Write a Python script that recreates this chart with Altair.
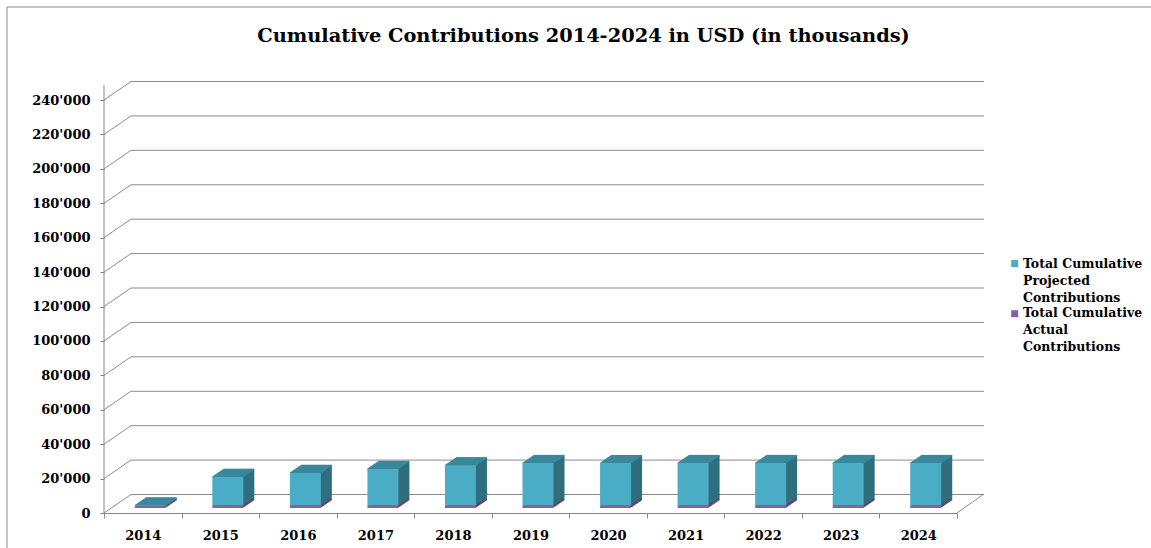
import altair as alt
import pandas as pd

# ---------------- data ----------------
years = ["2014", "2015", "2016", "2017", "2018", "2019", "2020", "2021", "2022", "2023", "2024"]
projected = [500, 16500, 18800, 21100, 23200, 24500, 24500, 24500, 24500, 24500, 24500]
actual = [1000, 1600, 1600, 1600, 1600, 1600, 1600, 1600, 1600, 1600, 1600]
tick_values = [0, 20000, 40000, 60000, 80000, 100000, 120000, 140000,
               160000, 180000, 200000, 220000, 240000]
series_names = ["Total Cumulative\nProjected\nContributions",
                "Total Cumulative\nActual\nContributions"]
title_text = "Cumulative Contributions 2014-2024 in USD (in thousands)"

# ---------------- style ----------------
FONT = "DejaVu Serif"
W, H = 853, 413
PAD_L, PAD_T = 104, 100
DX, DY = 27, -18.5          # depth of the 3-D walls
BX, BY = 7.5, -5            # bar position inside depth
SX, SY = 11, 7.5            # bar depth
BAR_W = 31
GRID = "#8c8c8c"
BLUE, BLUE_SIDE, BLUE_TOP = "#4bacc6", "#306f7e", "#3a889c"
PURP, PURP_SIDE = "#8064a2", "#5c4776"

df = pd.DataFrame({"year": years, "projected": projected, "actual": actual})
df["total"] = df["projected"] + df["actual"]

xscale = alt.Scale(domain=years, paddingInner=0, paddingOuter=0)
yscale = alt.Scale(domain=[0, 240000], nice=False, zero=True)

XAX = alt.Axis(title=None, labelAngle=0, tickBand="extent", tickSize=5, tickColor="#868686",
               domainColor="#868686", labelPadding=21, labelBaseline="alphabetic",
               labelFont=FONT, labelFontWeight="bold", labelFontSize=13, labelColor="black")
YAX = alt.Axis(values=tick_values, title=None, domain=False, grid=False, labelOverlap=False,
               tickSize=4, tickColor="#868686", labelPadding=10,
               labelFont=FONT, labelFontWeight="bold", labelFontSize=13, labelColor="black",
               labelExpr="replace(format(datum.value, ','), ',', \"'\")")
X = alt.X("year:N", scale=xscale, axis=XAX)


def Y(field):
    return alt.Y(field, scale=yscale, axis=YAX)


grid_df = pd.DataFrame({"v": tick_values})

# back wall gridlines
grid = alt.Chart(grid_df).mark_rule(color=GRID, strokeWidth=1, yOffset=DY).encode(
    y=Y("v:Q"), x=alt.value(DX), x2=alt.value(W + DX))

# side wall diagonals
diag = alt.Chart(grid_df).mark_rule(color=GRID, strokeWidth=1, y2Offset=DY).encode(
    y=Y("v:Q"), y2="v:Q", x=alt.value(0), x2=alt.value(DX))

floor_df = pd.DataFrame({"v": [0]})
floor_diag = alt.Chart(floor_df).mark_rule(color=GRID, strokeWidth=1, y2Offset=-19).encode(
    y=Y("v:Q"), y2="v:Q", x=alt.value(W), x2=alt.value(W + DX))

yline = alt.Chart(floor_df).mark_rule(color="#868686", strokeWidth=1).encode(
    x=alt.value(0), y=alt.value(-15), y2=alt.value(H))

layers = [grid, diag, floor_diag, yline]

base = alt.Chart(df)
STEPS = 11
for i in range(STEPS, 0, -1):
    ox = BX + i * SX / STEPS
    oy = BY - i * SY / STEPS
    layers.append(base.mark_bar(size=BAR_W, color=BLUE_SIDE, xOffset=ox, x2Offset=ox,
                                yOffset=oy, y2Offset=oy).encode(
        x=X, y=Y("actual:Q"), y2="total:Q"))
    layers.append(base.mark_bar(size=BAR_W, color=PURP_SIDE, xOffset=ox, x2Offset=ox,
                                yOffset=oy, y2Offset=oy).encode(
        x=X, y=Y("actual:Q"), y2=alt.datum(0)))

for i in range(0, STEPS + 1):
    ox = BX + i * SX / STEPS
    oy = BY - i * SY / STEPS
    layers.append(base.mark_bar(size=BAR_W, color=BLUE_TOP, xOffset=ox, x2Offset=ox,
                                yOffset=oy - 0.7, y2Offset=oy + 0.7).encode(
        x=X, y=Y("total:Q"), y2="total:Q"))

front_act = base.mark_bar(size=BAR_W, color=PURP, xOffset=BX, x2Offset=BX,
                          yOffset=BY, y2Offset=BY).encode(
    x=X, y=Y("actual:Q"), y2=alt.datum(0))
front_proj = base.mark_bar(size=BAR_W, color=BLUE, xOffset=BX, x2Offset=BX,
                           yOffset=BY, y2Offset=BY).encode(
    x=X, y=Y("actual:Q"), y2="total:Q")
layers += [front_act, front_proj]

# legend
leg_df = pd.DataFrame({"name": series_names, "color": [BLUE, PURP],
                       "sy": [163.5, 213.7], "ty": [168.3, 216.7]})
leg_sq = alt.Chart(leg_df).mark_square(size=49, opacity=1).encode(
    x=alt.value(1014.7 - PAD_L),
    y=alt.Y("sy:Q", scale=None),
    color=alt.Color("color:N", scale=None, legend=None))
leg_txt = alt.Chart(leg_df).mark_text(
    align="left", baseline="alphabetic", font=FONT, fontWeight="bold", fontSize=12.5,
    lineBreak="\n", lineHeight=17, color="black").encode(
    x=alt.value(1023 - PAD_L), y=alt.Y("ty:Q", scale=None), text="name:N")
layers += [leg_sq, leg_txt]

# title
t_df = pd.DataFrame({"t": [title_text]})
title = alt.Chart(t_df).mark_text(
    align="center", baseline="alphabetic", font=FONT, fontWeight="bold", fontSize=19.4,
    color="black").encode(x=alt.value(583.5 - PAD_L), y=alt.value(41.5 - PAD_T), text="t:N")
layers.append(title)

# frame
frame_l = alt.Chart(floor_df).mark_rule(color="#8a8a8a").encode(
    x=alt.value(7 - PAD_L), y=alt.value(7 - PAD_T), y2=alt.value(548 - PAD_T))
frame_t = alt.Chart(floor_df).mark_rule(color="#8a8a8a").encode(
    x=alt.value(7 - PAD_L), x2=alt.value(1151 - PAD_L), y=alt.value(7 - PAD_T))
layers += [frame_l, frame_t]

chart = alt.layer(*layers).properties(
    width=W, height=H, autosize="none",
    padding={"left": PAD_L, "top": PAD_T, "right": 1151 - PAD_L - W, "bottom": 548 - PAD_T - H},
    background="white",
).configure_view(stroke=None)

chart.save("out.html", embed_options={"renderer": "svg", "actions": False})
